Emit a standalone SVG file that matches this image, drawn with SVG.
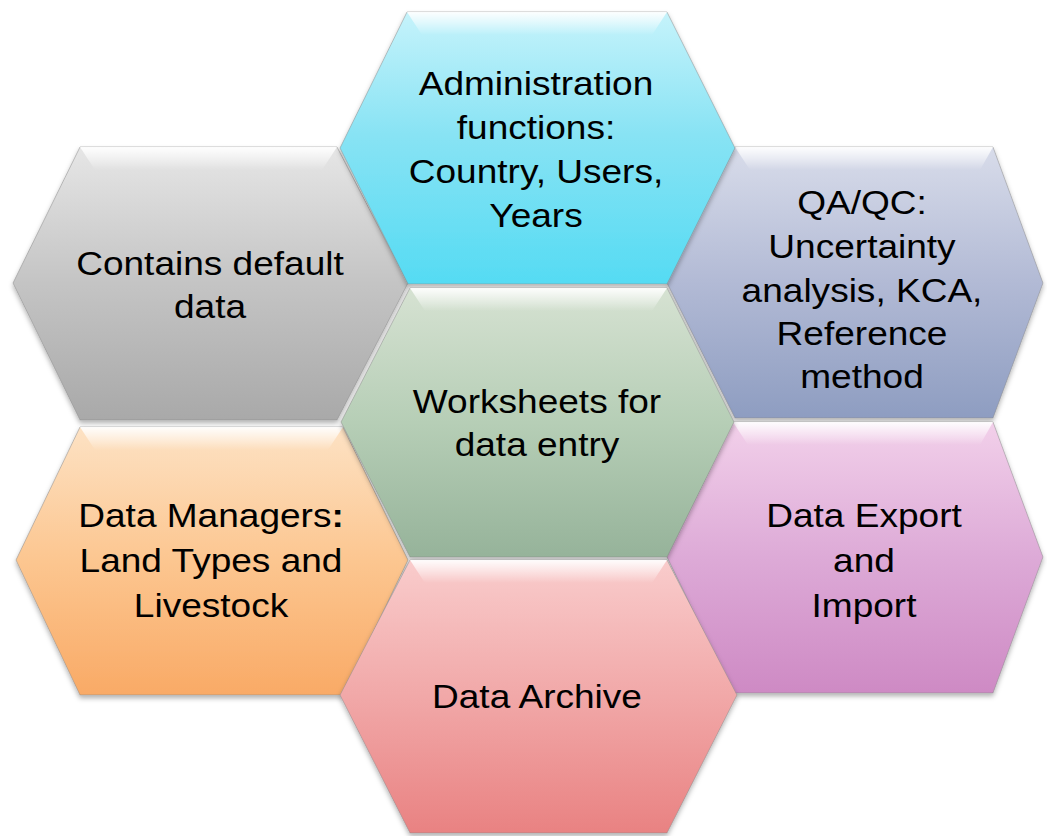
<svg xmlns="http://www.w3.org/2000/svg" width="1047" height="836" viewBox="0 0 1047 836">
<defs>
<style>
.hex{stroke:#8a8a8a;stroke-opacity:0.5;stroke-width:1;filter:url(#sh)}
.hi{fill:url(#hiTop)}
.lbl{font-family:"Liberation Sans",Arial,sans-serif;font-size:32.5px;fill:#000;text-anchor:middle}
</style>
<filter id="sh" x="-5%" y="-5%" width="110%" height="115%">
<feDropShadow dx="0" dy="3" stdDeviation="2.5" flood-color="#000" flood-opacity="0.3"/>
</filter>
<linearGradient id="hiTop" x1="0" y1="0" x2="0" y2="1">
<stop offset="0" stop-color="#fff" stop-opacity="0.95"/>
<stop offset="1" stop-color="#fff" stop-opacity="0"/>
</linearGradient>
<linearGradient id="gCyan" x1="0" y1="0" x2="0" y2="1">
<stop offset="0" stop-color="#c6f3fb"/>
<stop offset="0.45" stop-color="#88e3f4"/>
<stop offset="1" stop-color="#55dbf3"/>
</linearGradient>
<linearGradient id="gGray" x1="0" y1="0" x2="0" y2="1">
<stop offset="0" stop-color="#e6e6e6"/>
<stop offset="0.5" stop-color="#c4c4c4"/>
<stop offset="1" stop-color="#a9a9a9"/>
</linearGradient>
<linearGradient id="gBlue" x1="0" y1="0" x2="0" y2="1">
<stop offset="0" stop-color="#d8dcea"/>
<stop offset="0.5" stop-color="#b2bad5"/>
<stop offset="1" stop-color="#8e9dc1"/>
</linearGradient>
<linearGradient id="gGreen" x1="0" y1="0" x2="0" y2="1">
<stop offset="0" stop-color="#d6e2d2"/>
<stop offset="0.5" stop-color="#b6ceb6"/>
<stop offset="1" stop-color="#96b39a"/>
</linearGradient>
<linearGradient id="gOrange" x1="0" y1="0" x2="0" y2="1">
<stop offset="0" stop-color="#fde2c4"/>
<stop offset="0.5" stop-color="#fcc690"/>
<stop offset="1" stop-color="#f9aa66"/>
</linearGradient>
<linearGradient id="gPink" x1="0" y1="0" x2="0" y2="1">
<stop offset="0" stop-color="#f9cccc"/>
<stop offset="0.5" stop-color="#f1a8a8"/>
<stop offset="1" stop-color="#e98282"/>
</linearGradient>
<linearGradient id="gPurple" x1="0" y1="0" x2="0" y2="1">
<stop offset="0" stop-color="#f2d0ea"/>
<stop offset="0.5" stop-color="#ddaad7"/>
<stop offset="1" stop-color="#ce8ac4"/>
</linearGradient>
</defs>
<rect width="1047" height="836" fill="#fff"/>

<g id="connectors"></g>

<g id="hex-default">
<polygon class="hex" fill="url(#gGray)" points="13,283 80,147 337,147 408,283 337,420 80,420"/>
<polygon class="hi" points="80,147 337,147 322,170 95,170"/>
<g transform="translate(210,0) scale(1.14,1)">
<text class="lbl" x="0" y="275">Contains default</text>
<text class="lbl" x="0" y="318">data</text>
</g>
</g>

<g id="hex-datamanagers">
<polygon class="hex" fill="url(#gOrange)" points="16,560 80,427 343,427 408,560 343,695 80,695"/>
<polygon class="hi" points="80,427 343,427 328,450 95,450"/>
<g transform="translate(211,0) scale(1.14,1)">
<text class="lbl" x="0" y="527">Data Managers<tspan font-weight="bold">:</tspan></text>
<text class="lbl" x="0" y="572">Land Types and</text>
<text class="lbl" x="0" y="617">Livestock</text>
</g>
</g>

<g id="hex-qaqc">
<polygon class="hex" fill="url(#gBlue)" points="667,283 735,147 993,147 1043,283 993,418 735,418"/>
<polygon class="hi" points="735,147 993,147 980,170 750,170"/>
<g transform="translate(862,0) scale(1.14,1)">
<text class="lbl" x="0" y="214">QA/QC:</text>
<text class="lbl" x="0" y="258">Uncertainty</text>
<text class="lbl" x="0" y="302">analysis, KCA,</text>
<text class="lbl" x="0" y="345">Reference</text>
<text class="lbl" x="0" y="388">method</text>
</g>
</g>

<g id="hex-export">
<polygon class="hex" fill="url(#gPurple)" points="667,557 733,422 993,422 1043,557 993,693 733,693"/>
<polygon class="hi" points="733,422 993,422 980,445 748,445"/>
<g transform="translate(864,0) scale(1.14,1)">
<text class="lbl" x="0" y="527">Data Export</text>
<text class="lbl" x="0" y="572">and</text>
<text class="lbl" x="0" y="617">Import</text>
</g>
</g>

<g id="hex-admin">
<polygon class="hex" fill="url(#gCyan)" points="340,148 407,12 667,12 735,148 667,284 408,284"/>
<polygon class="hi" points="407,12 667,12 652,35 422,35"/>
<g transform="translate(536,0) scale(1.14,1)">
<text class="lbl" x="0" y="95">Administration</text>
<text class="lbl" x="0" y="139">functions:</text>
<text class="lbl" x="0" y="183">Country, Users,</text>
<text class="lbl" x="0" y="227">Years</text>
</g>
</g>

<g id="hex-worksheets">
<polygon class="hex" fill="url(#gGreen)" points="341,422 410,288 667,288 734,422 667,557 410,557"/>
<polygon class="hi" points="410,288 667,288 652,311 425,311"/>
<g transform="translate(537,0) scale(1.14,1)">
<text class="lbl" x="0" y="413">Worksheets for</text>
<text class="lbl" x="0" y="456">data entry</text>
</g>
</g>

<g id="hex-archive">
<polygon class="hex" fill="url(#gPink)" points="340,695 410,560 667,560 737,695 667,833 410,833"/>
<polygon class="hi" points="410,560 667,560 652,583 425,583"/>
<g transform="translate(537,0) scale(1.14,1)">
<text class="lbl" x="0" y="708">Data Archive</text>
</g>
</g>
</svg>
